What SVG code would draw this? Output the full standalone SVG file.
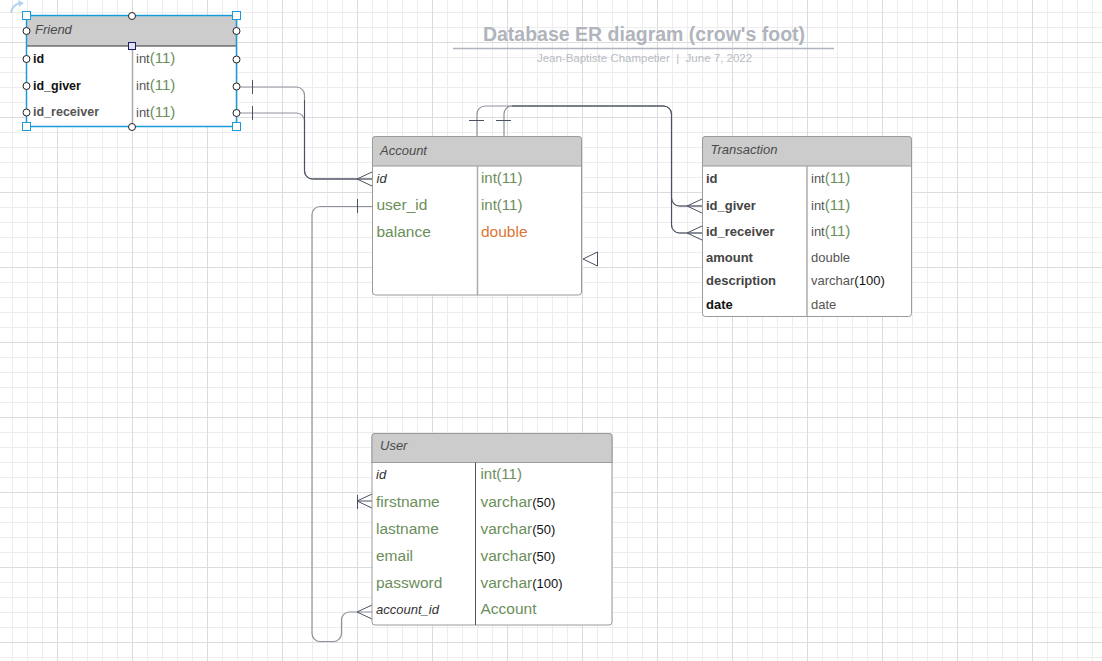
<svg xmlns="http://www.w3.org/2000/svg" width="1102" height="661" viewBox="0 0 1102 661">
<style>
text{font-family:"Liberation Sans",Arial,sans-serif;}
.hdr{font-size:13px;font-style:italic;fill:#4a4a4a;}
.tb{fill:#fff;stroke:#9a9a9a;stroke-width:1;}
.th{fill:#cccccc;stroke:#9a9a9a;stroke-width:1;}
.dv{stroke:#ababab;stroke-width:1.5;}
.bl{font-size:13px;font-weight:bold;fill:#444;}
.gn{font-size:15.5px;fill:#6b8e5b;}
.gi{font-size:15px;fill:#6b8e5b;}
.it{font-size:13px;font-style:italic;fill:#333;}
.ty{font-size:13px;fill:#555;}
.dk{fill:#111;}
.cn{fill:none;stroke:#4b5263;stroke-width:1;}
.cl{fill:none;stroke:#8d929b;stroke-width:1.2;}
.hc{fill:#fff;stroke:#222;stroke-width:1;}
.hs{fill:#fff;stroke:#1a9bd7;stroke-width:1;}
</style>
<defs>
<pattern id="grid" x="57" y="42" width="75" height="75" patternUnits="userSpaceOnUse">
<rect width="75" height="75" fill="#fff"/>
<rect x="15" width="1" height="75" fill="#ededed"/>
<rect x="30" width="1" height="75" fill="#ededed"/>
<rect x="45" width="1" height="75" fill="#ededed"/>
<rect x="60" width="1" height="75" fill="#ededed"/>
<rect y="15" width="75" height="1" fill="#ededed"/>
<rect y="30" width="75" height="1" fill="#ededed"/>
<rect y="45" width="75" height="1" fill="#ededed"/>
<rect y="60" width="75" height="1" fill="#ededed"/>
<rect x="0" width="1" height="75" fill="#dcdcdc"/>
<rect y="0" width="75" height="1" fill="#dcdcdc"/>
</pattern>
</defs>
<rect width="1102" height="661" fill="url(#grid)"/>

<g id="title">
<text x="644" y="41" text-anchor="middle" font-size="19.5" font-weight="bold" fill="#b0b4bc">Database ER diagram (crow's foot)</text>
<line x1="453" y1="48.5" x2="834" y2="48.5" stroke="#b0b4bc" stroke-width="1.5"/>
<text x="644.5" y="61.5" text-anchor="middle" font-size="11.5" fill="#b8bcc4" style="white-space:pre">Jean-Baptiste Champetier  |  June 7, 2022</text>
</g>

<g id="connectors">
<path class="cl" d="M236 87 H296.5 A8 8 0 0 1 304.5 95 V171 A8 8 0 0 0 312.5 179 H372"/>
<path class="cl" d="M236 113 H296.5 A8 8 0 0 1 304.5 121 V171 A8 8 0 0 0 312.5 179 H357"/>
<path class="cn" d="M304.5 100 V171 A8 8 0 0 0 312.5 179 H372"/>
<path class="cn" d="M252.5 80 V94 M252.5 106 V120"/>
<path class="cn" d="M372 172 L357 179 L372 186"/>
<path class="cl" d="M477 136 V114 A8 8 0 0 1 485 106 H663.5 A8 8 0 0 1 671.5 114 V198 A8 8 0 0 0 679.5 206 H702"/>
<path class="cl" d="M504 136 V114 A8 8 0 0 1 512 106 H663.5 A8 8 0 0 1 671.5 114 V225 A8 8 0 0 0 679.5 233 H702"/>
<path class="cn" d="M512 106 H663.5 A8 8 0 0 1 671.5 114 V225 A8 8 0 0 0 679.5 233 H702 M671.5 198 A8 8 0 0 0 679.5 206 H702"/>
<path class="cn" d="M469 120.5 H484 M496 120.5 H511"/>
<path class="cn" d="M702 199 L687 206 L702 213 M702 226 L687 233 L702 240"/>
<path class="cn" d="M597.5 252 L583 259 L597.5 266 Z" fill="#fff"/>
<path class="cl" d="M372 206.5 H320 A8 8 0 0 0 312 214.5 V633.5 A8 8 0 0 0 320 641.5 H333.5 A8 8 0 0 0 341.5 633.5 V620 A8 8 0 0 1 349.5 612 H372"/>
<path class="cn" d="M357.5 199 V213"/>
<path class="cn" d="M372 605 L357 612 L372 619"/>
<path class="cn" d="M357.5 495 V509 M372 494 L357 501 L372 508 M357 501 H372"/>
</g>

<g id="friend">
<rect class="tb" x="26.5" y="15.5" width="210" height="111"/>
<rect x="26.5" y="15.5" width="210" height="30.5" fill="#cccccc"/>
<line x1="26.5" y1="46" x2="236.5" y2="46" stroke="#333" stroke-width="1"/>
<line class="dv" x1="132.5" y1="46" x2="132.5" y2="126"/>
<text class="hdr" x="35" y="34">Friend</text>
<text x="33" y="62.5" font-size="12.5" font-weight="bold" fill="#111">id</text>
<text x="33" y="89.5" font-size="12.5" font-weight="bold" fill="#111">id_giver</text>
<text x="33" y="116" font-size="12.5" font-weight="bold" fill="#555">id_receiver</text>
<text class="ty" x="136" y="63">int<tspan font-size="15" fill="#6b8e5b">(11)</tspan></text>
<text class="ty" x="136" y="90">int<tspan font-size="15" fill="#6b8e5b">(11)</tspan></text>
<text class="ty" x="136" y="116.5">int<tspan font-size="15" fill="#6b8e5b">(11)</tspan></text>
<rect x="26.5" y="15.5" width="210" height="111" fill="none" stroke="#1a9bd7" stroke-width="1.5"/>
<path d="M11 13 Q12 5 20 3" fill="none" stroke="#b5d3ee" stroke-width="2"/>
<path d="M18 0 L24 3 L19 7 Z" fill="#b5d3ee"/>
<circle class="hc" cx="132" cy="16" r="3.5"/>
<circle class="hc" cx="132" cy="127" r="3.5"/>
<circle class="hc" cx="26.5" cy="31" r="3.5"/>
<circle class="hc" cx="26.5" cy="59" r="3.5"/>
<circle class="hc" cx="26.5" cy="86" r="3.5"/>
<circle class="hc" cx="26.5" cy="112.5" r="3.5"/>
<circle class="hc" cx="236.5" cy="31" r="3.5"/>
<circle class="hc" cx="236.5" cy="59.5" r="3.5"/>
<circle class="hc" cx="236.5" cy="86.5" r="3.5"/>
<circle class="hc" cx="236.5" cy="113" r="3.5"/>
<rect class="hs" x="22.5" y="11.5" width="8" height="8"/>
<rect class="hs" x="232.5" y="11.5" width="8" height="8"/>
<rect class="hs" x="22.5" y="122.5" width="8" height="8"/>
<rect class="hs" x="232.5" y="122.5" width="8" height="8"/>
<rect x="128.5" y="42.5" width="7" height="7" fill="#e2e2f0" stroke="#1b1b6b" stroke-width="1"/>
</g>

<g id="account">
<rect class="tb" x="372.5" y="136.5" width="209" height="158.5" rx="3"/>
<path class="th" d="M372.5 166 V139.5 Q372.5 136.5 375.5 136.5 H578.5 Q581.5 136.5 581.5 139.5 V166 Z"/>
<line class="dv" x1="477.5" y1="166" x2="477.5" y2="295"/>
<text class="hdr" x="380" y="154.5">Account</text>
<text class="it" x="376.5" y="183">id</text>
<text class="gn" x="376.5" y="209.5">user_id</text>
<text class="gn" x="376.5" y="236.5">balance</text>
<text class="gi" x="481" y="183">int(11)</text>
<text class="gi" x="481" y="209.5">int(11)</text>
<text x="481" y="236.5" font-size="15.5" fill="#dc7633">double</text>
</g>

<g id="transaction">
<rect class="tb" x="702.5" y="136.5" width="209" height="180" rx="3"/>
<path class="th" d="M702.5 166 V139.5 Q702.5 136.5 705.5 136.5 H908.5 Q911.5 136.5 911.5 139.5 V166 Z"/>
<line class="dv" x1="807" y1="166" x2="807" y2="316.5"/>
<text class="hdr" x="710.5" y="153.5">Transaction</text>
<text class="bl" x="706" y="182.5">id</text>
<text class="bl" x="706" y="209.5">id_giver</text>
<text class="bl" x="706" y="236">id_receiver</text>
<text class="bl" x="706" y="261.5">amount</text>
<text class="bl" x="706" y="284.5">description</text>
<text class="bl dk" x="706" y="308.5">date</text>
<text class="ty" x="811" y="182.5">int<tspan font-size="15" fill="#6b8e5b">(11)</tspan></text>
<text class="ty" x="811" y="209.5">int<tspan font-size="15" fill="#6b8e5b">(11)</tspan></text>
<text class="ty" x="811" y="236">int<tspan font-size="15" fill="#6b8e5b">(11)</tspan></text>
<text class="ty" x="811" y="261.5">double</text>
<text class="ty" x="811" y="284.5">varchar<tspan fill="#111">(100)</tspan></text>
<text class="ty" x="811" y="308.5">date</text>
</g>

<g id="user">
<rect class="tb" x="372" y="433.5" width="240" height="191.5" rx="3"/>
<path class="th" d="M372 462.5 V436.5 Q372 433.5 375 433.5 H609 Q612 433.5 612 436.5 V462.5 Z"/>
<line x1="475.5" y1="462.5" x2="475.5" y2="625" stroke="#555" stroke-width="1"/>
<text class="hdr" x="380" y="450">User</text>
<text class="it" x="376" y="478.5">id</text>
<text class="gn" x="376" y="507">firstname</text>
<text class="gn" x="376" y="534">lastname</text>
<text class="gn" x="376" y="560.5">email</text>
<text class="gn" x="376" y="587.5">password</text>
<text class="it" x="376" y="613.5">account_id</text>
<text class="gi" x="480.5" y="478.5">int(11)</text>
<text class="gn" x="480.5" y="507">varchar<tspan font-size="13" fill="#111">(50)</tspan></text>
<text class="gn" x="480.5" y="534">varchar<tspan font-size="13" fill="#111">(50)</tspan></text>
<text class="gn" x="480.5" y="560.5">varchar<tspan font-size="13" fill="#111">(50)</tspan></text>
<text class="gn" x="480.5" y="587.5">varchar<tspan font-size="13" fill="#111">(100)</tspan></text>
<text class="gn" x="480.5" y="614">Account</text>
</g>
</svg>
